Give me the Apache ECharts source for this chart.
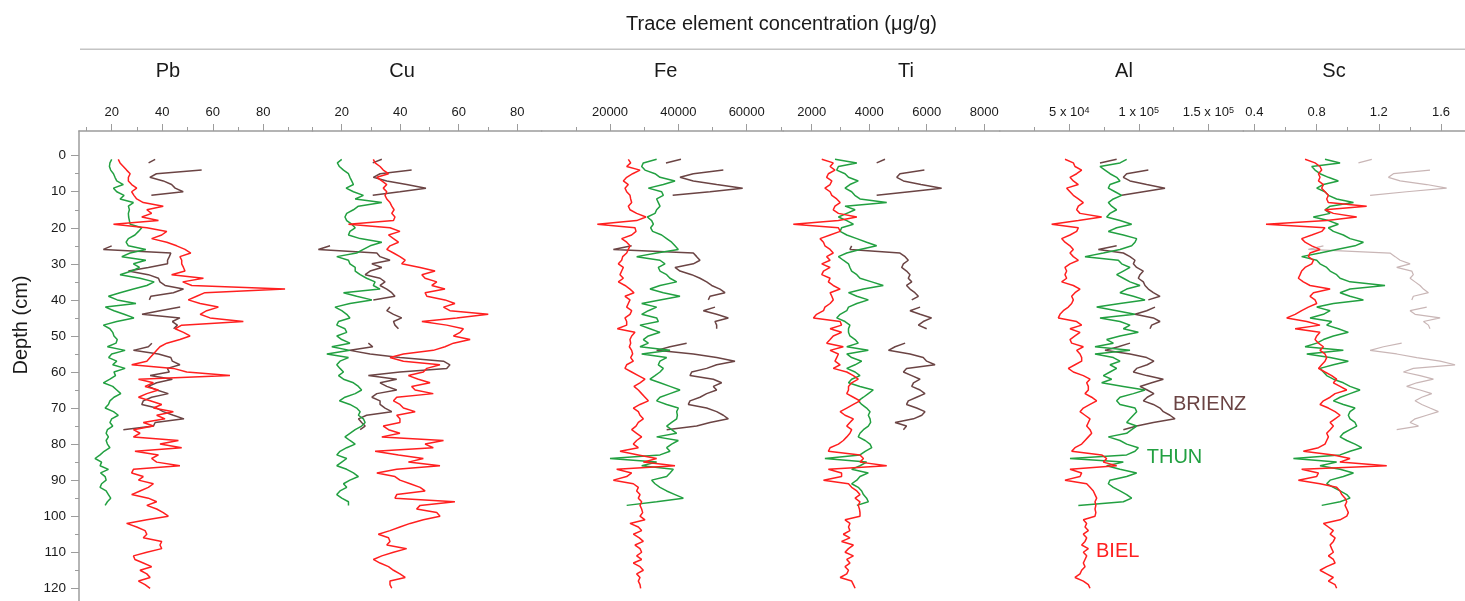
<!DOCTYPE html>
<html><head><meta charset="utf-8">
<script src="https://cdn.jsdelivr.net/npm/echarts@6/dist/echarts.min.js"></script>
<style>html,body{margin:0;padding:0;background:#fff}#c{width:1465px;height:601px}</style>
</head><body><div id="c"></div>
<script>
// ---------------- data ----------------
const BIEL_DEPTH = [1,2,3,4,5,6,7,8,9,10,11,12,13,14,15,16,17,18,19,20,21,22,23,24,25,26,27,28,29,30,31,32,33,34,35,36,37,38,39,40,41,42,43,44,45,46,47,48,49,50,51,52,53,54,55,56,57,58,59,60,61,62,63,64,65,66,67,68,69,70,71,72,73,74,75,76,77,78,79,80,81,82,83,84,85,86,87,88,89,90,91,92,93,94,95,96,97,98,99,100,101,102,103,104,105,106,107,108,109,110,111,112,113,114,115,116,117,118,119,120];
const THUN_DEPTH = [1,2,3,4,5,6,7,8,9,10,11,12,13,14,15,16,17,18,19,20,21,22,23,24,25,26,27,28,29,30,31,32,33,34,35,36,37,38,39,40,41,42,43,44,45,46,47,48,49,50,51,52,53,54,55,56,57,58,59,60,61,62,63,64,65,66,67,68,69,70,71,72,73,74,75,76,77,78,79,80,81,82,83,84,85,86,87,88,89,90,91,92,93,94,95,96,97];
const BRIENZ_DEPTH = [1,2,3,4,5,6,7,8,9,10,11,12,13,14,15,16,17,18,19,20,21,22,23,24,25,26,27,28,29,30,31,32,33,34,35,36,37,38,39,40,41,42,43,44,45,46,47,48,49,50,51,52,53,54,55,56,57,58,59,60,61,62,63,64,65,66,67,68,69,70,71,72,73,74,75,76];

const PB_BIEL = [22.6,23.3,24.6,25.9,27.3,26.6,26.6,27.9,29.9,27.9,28.8,29.9,32.5,40.4,33.9,35.8,31.9,38.5,20.7,33.9,41.8,39.8,35.8,41.8,45.7,49.0,51.3,47.0,47.7,47.7,48.4,49.0,43.7,56.3,48.1,51.7,88.6,56.9,53.6,50.3,55.0,62.2,57.6,55.0,58.9,72.1,47.7,45.1,48.4,51.0,47.0,41.8,39.1,37.8,36.5,35.2,33.9,27.9,44.4,49.7,66.8,30.6,36.5,33.2,38.5,33.9,30.6,35.2,39.8,36.5,44.4,37.8,41.1,32.5,36.5,28.6,31.2,28.6,46.4,39.1,47.7,29.2,38.5,35.8,37.8,47.0,28.6,27.9,32.5,30.6,36.5,34.5,31.2,27.9,34.5,37.8,33.9,37.8,40.4,42.4,33.9,25.9,29.9,33.2,33.9,32.5,39.8,39.1,39.8,33.9,28.6,29.2,32.5,35.8,31.2,33.9,35.2,30.6,33.2,35.2];
const PB_THUN = [20.0,19.3,19.1,19.6,20.7,21.3,22.0,24.6,20.7,22.0,24.9,23.3,28.6,26.6,27.0,26.6,26.7,27.0,27.3,31.9,30.6,29.2,26.6,25.7,26.6,33.5,27.3,24.0,33.5,28.6,31.0,27.9,23.3,31.2,36.8,33.9,28.6,23.3,18.7,22.2,29.6,17.5,20.9,24.9,28.8,22.0,16.7,19.3,20.4,20.9,22.2,21.7,18.3,25.3,20.0,18.8,22.0,20.4,25.3,20.9,21.5,19.3,16.7,20.4,22.0,23.6,20.9,19.3,18.7,17.4,20.7,22.6,20.0,19.3,20.4,18.3,17.8,18.7,17.8,18.3,19.3,17.0,15.4,13.4,16.0,15.4,18.7,15.6,17.4,17.8,16.0,15.4,17.8,18.7,19.6,18.3,17.4];
const PB_BRIENZ = [37.2,34.6,null,55.6,37.7,35.1,40.4,43.7,45.1,48.3,35.7,null,null,null,null,null,null,null,null,null,null,null,null,null,20.0,16.7,43.4,42.8,42.1,42.1,34.5,26.6,34.5,38.5,39.1,41.1,48.4,44.4,35.5,34.9,null,47.1,39.1,32.0,47.0,44.0,46.0,44.5,null,null,null,35.9,34.5,28.6,38.5,43.4,44.0,47.0,42.0,42.8,35.2,44.0,37.8,34.5,37.8,42.4,35.8,32.5,31.9,37.8,40.4,44.4,48.6,37.2,36.5,24.6];

const CU_BIEL = [30.8,31.4,33.1,34.2,36.0,32.0,33.7,35.4,34.2,35.4,34.8,35.4,36.5,37.1,37.9,37.1,38.2,37.7,22.3,36.5,39.9,36.0,37.7,39.4,36.5,35.4,37.7,39.9,41.7,40.5,46.8,51.9,47.4,48.5,52.5,50.8,55.3,48.5,49.1,55.3,58.7,54.8,57.0,70.1,59.3,47.4,55.9,61.6,60.5,58.2,63.9,58.2,55.3,51.3,41.1,36.5,41.1,53.6,49.1,47.9,42.8,46.2,50.2,43.9,45.1,51.3,38.8,37.7,39.9,41.1,45.1,38.8,39.9,39.9,34.2,36.0,39.9,33.7,54.8,48.5,51.3,31.4,39.4,47.9,42.8,53.6,38.8,32.0,38.2,39.9,43.4,46.8,48.5,38.8,38.2,58.7,46.8,45.6,52.5,53.6,47.9,43.4,39.9,36.5,32.5,36.0,36.5,35.4,42.2,37.7,33.7,30.8,33.1,36.0,37.7,39.9,41.7,36.5,36.5,37.1];
const CU_THUN = [20.0,18.5,19.2,20.6,22.3,22.8,23.4,24.0,21.5,24.0,27.4,24.6,33.7,25.7,24.0,21.7,21.1,21.7,23.4,24.6,22.8,22.3,26.3,33.7,29.7,27.4,25.1,18.3,22.3,22.8,24.6,24.6,26.3,28.5,31.4,30.8,33.1,20.6,25.1,30.3,22.8,17.7,20.0,21.7,22.8,18.9,18.3,21.1,21.7,18.3,20.0,22.8,16.6,22.8,14.9,22.3,19.4,18.3,19.4,20.6,18.9,20.6,24.0,25.7,26.8,24.6,21.1,19.2,22.8,25.1,26.3,25.7,27.4,28.0,26.8,24.6,22.8,21.1,22.8,24.6,21.7,19.4,18.3,21.7,20.0,18.3,21.7,24.0,25.7,22.8,20.6,21.7,19.4,18.3,20.0,22.3,22.3];
const CU_BRIENZ = [33.7,30.6,null,43.9,33.1,30.8,35.4,42.2,48.8,39.9,30.6,null,null,null,null,null,null,null,null,null,null,null,null,null,16.0,12.0,32.0,33.1,36.5,30.3,33.7,29.7,28.0,33.1,34.8,33.1,35.4,37.1,38.2,30.8,null,36.5,35.4,37.7,40.5,37.7,38.2,39.4,null,null,null,29.1,30.6,22.8,29.7,39.9,54.8,57.0,55.9,39.9,29.1,38.8,33.1,35.4,38.8,32.0,30.3,33.1,33.1,34.8,37.1,28.5,25.7,26.8,28.0,26.3];

const FE_BIEL = [25360,26050,24880,28780,26630,24880,23900,25360,24390,24880,25850,26050,26340,25360,25850,27800,30530,27800,16290,27310,27610,26340,23410,24880,25850,25360,24880,23710,23410,22440,23900,23410,22930,23900,22440,24390,25850,27020,24390,25850,25360,24880,26340,25850,24390,24880,24880,22150,27310,26340,25850,26050,25660,26340,26630,26050,26830,24880,24390,26340,28290,30240,28780,27020,28290,29260,30240,31220,28780,26830,28290,28780,29750,28290,27610,26340,27800,29260,27800,26830,28290,22930,28290,33650,29750,39020,21950,26340,24880,20980,26830,28290,27800,28780,28290,29260,28780,29260,29560,28780,30240,25850,28290,29260,26830,28580,29750,27310,28780,29260,27800,29260,26830,28780,29750,27800,28780,28290,28780,28970];
const FE_THUN = [33650,29750,29270,30240,33170,34630,39020,35600,31220,35120,35600,33650,34140,34630,33650,33170,30920,32190,32680,31900,32480,35120,36580,38040,39020,39990,33650,27800,34630,36090,34140,34630,36580,37560,39510,34630,31700,35600,40480,34630,29270,33650,31220,29270,33650,34140,28780,31700,34630,31220,29750,31220,28780,37560,29270,36580,34630,34140,35600,34630,33170,31700,34630,37560,40480,37560,34630,33650,36580,39990,39510,39710,39510,38040,36580,38040,39510,33650,39990,38040,36580,37560,34630,20000,33650,29270,38530,37560,36580,32190,33170,34630,36580,39020,41460,33650,24880];
const FE_BRIENZ = [40770,36380,null,53160,44380,40480,44380,51210,58820,49260,38340,null,null,null,null,null,null,null,null,null,null,null,null,null,26340,20980,44380,45360,46330,44380,39020,40480,43900,46330,48280,49750,52180,53650,49260,48770,null,50720,47310,51210,54620,50720,51210,51210,null,null,null,42430,37560,33650,44380,51210,56570,51210,48280,43900,43410,50230,52670,50230,51210,48280,46330,43410,42920,48280,51210,53160,54620,49260,45360,36580];

const TI_BIEL = [2350,2750,2640,2810,2580,2520,2700,2640,2460,2640,2700,2870,2990,2810,2750,2930,3570,2930,1360,2930,2990,2640,2290,2410,2460,2640,2750,2520,2640,2350,2640,2410,2350,2640,2580,2750,2990,2640,2700,2750,2640,2460,2410,2170,2060,2990,3040,2640,3040,2750,2640,2520,3100,2640,2930,2870,2810,2990,2750,3220,3450,3620,3390,3280,3280,3220,3450,3680,3450,3220,2990,3160,3450,3330,3220,3390,3330,3220,3100,2930,2640,2580,3680,3800,3680,4610,2580,3040,3040,2410,3280,3390,3570,3680,3510,3680,3620,3660,3680,3680,3160,3330,3280,3330,3100,3330,3040,3450,3280,3160,3450,3220,3330,3160,3280,3220,2990,3390,3450,3510];
const TI_THUN = [2810,3570,2930,2870,3160,3280,3620,3330,3160,3390,3500,3680,4610,3160,3510,3220,2930,3220,3450,3040,2990,3220,3570,3910,4260,3680,3220,2930,3100,3280,3330,3390,3570,3680,4090,4490,3800,3280,3570,3970,3570,3280,3220,2990,2870,3160,3330,3280,3280,3330,3510,3620,3220,3970,3220,3390,3740,3510,3220,3510,3680,3390,3280,3680,4140,3970,3800,3620,3740,3910,4030,3970,4030,4050,3970,3800,3680,3620,3860,4030,4090,3860,3680,2460,3910,3680,3390,3970,3680,3570,3390,3620,3740,3800,3910,3970,3570];
const TI_BRIENZ = [4550,4260,null,5920,5070,4960,5190,5800,6520,5400,4260,null,null,null,null,null,null,null,null,null,null,null,null,null,3390,3330,5070,5250,5360,5190,5130,5300,5420,5360,5480,5300,5420,5590,5710,5480,null,5770,5420,5770,6170,5880,5710,6000,null,null,null,5250,4900,4670,5420,5880,6000,6290,5300,5190,5480,5770,5540,5480,5770,5940,5650,5360,5300,5650,5940,5830,5540,4900,5300,5190];

const AL_BIEL = [46900,52900,54100,58900,55300,50500,52900,56500,48100,50500,52900,56500,60100,56500,55300,57700,73300,56500,37300,56500,55300,50500,44500,46900,50500,52900,50500,52900,56500,50500,46900,48100,46900,48100,44500,52900,57700,54100,51700,52900,51700,49300,45700,43300,42100,55300,58900,50500,57700,54100,50500,51700,60100,55300,57700,58900,58900,54100,49300,52900,60100,64900,62500,63700,63700,61300,66100,69700,64900,60100,57700,61300,64900,63700,62500,64900,66100,63700,61300,58900,54100,51700,73300,76880,74480,84100,50500,58900,57700,46900,62500,64900,67300,68500,69700,68500,69100,68500,69100,68500,60100,62500,61300,63700,60100,62500,61300,58900,63700,60100,62500,61300,60100,61300,58900,57700,54100,60100,63700,64900];
const AL_THUN = [91270,86470,72080,75680,79280,84070,86470,79280,78080,82880,87670,81680,78080,80480,84070,79280,76880,86470,94870,84070,78080,88870,98460,97260,94870,86470,74480,61290,85270,87670,93670,88870,84070,88870,93670,100860,91270,86470,96070,104460,86470,69690,84070,97260,72080,86470,93670,88870,99660,86470,76880,81680,68490,93670,68490,81680,86470,79280,84070,79280,74480,80480,73280,88870,104460,96070,86470,84070,86470,97260,98460,96070,93670,91270,98460,94870,91270,78080,86470,91270,99660,97260,91270,50500,88870,76880,86470,98460,91270,79280,78080,81680,86470,91270,94870,88870,56500];
const AL_BRIENZ = [84070,72080,null,106860,91270,88870,93670,105660,118850,103260,87670,null,null,null,null,null,null,null,null,null,null,null,null,null,84070,70890,88870,93670,97260,96070,98460,103260,100860,99660,103260,104460,106860,110460,115250,106860,null,111650,105660,97260,110460,115250,109260,108060,null,null,null,93670,85270,75680,93670,105660,110860,106060,98460,96070,105660,117650,109260,100860,106060,110860,106060,103260,110460,115250,117650,122450,126050,110460,98460,88870];

const SC_BIEL = [0.726,0.79,0.822,0.833,0.812,0.822,0.812,0.844,0.833,0.854,0.876,0.865,0.876,1.122,0.854,0.908,1.058,0.865,0.475,0.854,0.833,0.769,0.704,0.726,0.769,0.822,0.758,0.747,0.78,0.769,0.726,0.704,0.694,0.683,0.715,0.758,0.887,0.78,0.758,0.79,0.801,0.747,0.704,0.662,0.608,0.737,0.822,0.662,0.822,0.801,0.79,0.812,0.844,0.822,0.854,0.865,0.854,0.833,0.812,0.854,0.897,0.929,0.908,0.951,0.994,0.919,0.887,0.844,0.822,0.876,0.919,0.951,0.919,0.887,0.908,0.887,0.865,0.876,0.865,0.854,0.812,0.715,0.908,1.015,0.95,1.251,0.704,0.812,0.80,0.683,0.822,0.929,0.951,0.962,0.983,0.994,0.983,0.994,1.004,0.994,0.951,0.844,0.876,0.908,0.887,0.919,0.908,0.887,0.897,0.908,0.876,0.908,0.919,0.865,0.822,0.865,0.908,0.876,0.919,0.929];
const SC_THUN = [0.854,0.951,0.769,0.79,0.822,0.876,0.94,0.844,0.801,0.854,0.876,0.929,1.037,0.887,0.854,0.887,0.779,0.876,0.94,0.876,0.908,0.972,1.015,1.101,1.047,0.929,0.822,0.704,0.801,0.822,0.865,0.887,0.929,0.951,1.015,1.24,1.015,0.951,1.015,1.101,0.908,0.801,0.887,0.844,0.758,0.897,0.865,0.94,1.004,0.908,0.844,0.801,0.726,0.972,0.737,0.887,1.004,0.908,0.822,0.844,0.865,0.908,0.972,1.015,1.079,1.015,0.951,0.908,0.972,1.047,1.015,1.004,1.015,1.047,1.058,1.015,0.972,0.951,0.994,1.047,1.09,1.015,0.951,0.651,0.929,0.822,0.951,1.037,0.972,0.887,0.865,0.908,0.951,0.994,1.015,0.951,0.833];
const SC_BRIENZ = [1.155,1.069,null,1.529,1.294,1.262,1.337,1.508,1.636,1.379,1.144,null,null,null,null,null,null,null,null,null,null,null,null,null,0.844,0.747,1.272,1.305,1.337,1.401,1.315,1.412,1.422,1.401,1.433,1.465,1.487,1.519,1.422,1.412,null,1.508,1.401,1.433,1.594,1.487,1.519,1.529,null,null,null,1.347,1.23,1.144,1.315,1.444,1.594,1.69,1.422,1.358,1.465,1.551,1.444,1.379,1.465,1.54,1.476,1.433,1.476,1.529,1.583,1.508,1.433,1.401,1.455,1.315];

const ELEMENTS = ['Pb','Cu','Fe','Ti','Al','Sc'];
const MAJOR_TICKS = [[20,40,60,80],[20,40,60,80],[20000,40000,60000],[2000,4000,6000,8000],[50000,100000,150000],[0.4,0.8,1.2,1.6]];
const TICK_LABELS = [['20','40','60','80'],['20','40','60','80'],['20000','40000','60000'],['2000','4000','6000','8000'],['5 x 10{s|4}','1 x 10{s|5}','1.5 x 10{s|5}'],['0.4','0.8','1.2','1.6']];
const MINOR_TICKS = [[10,30,50,70,90],[10,30,50,70],[10000,30000,50000,70000],[3000,5000,7000],[25000,75000,125000],[0.6,1.0,1.4]];
const X_MIN = [7.06,10.0,15,1009,0,0.329];
const X_MAX = [99.46,88.38,70680,8543,175180,1.754];
const DEPTH_TICKS = [0,10,20,30,40,50,60,70,80,90,100,110,120];
const DEPTH_MINOR = [5,15,25,35,45,55,65,75,85,95,105,115];
const LAKES = ['BRIENZ','THUN','BIEL'];
const SERIES = [
  [PB_BRIENZ,PB_THUN,PB_BIEL],[CU_BRIENZ,CU_THUN,CU_BIEL],[FE_BRIENZ,FE_THUN,FE_BIEL],
  [TI_BRIENZ,TI_THUN,TI_BIEL],[AL_BRIENZ,AL_THUN,AL_BIEL],[SC_BRIENZ,SC_THUN,SC_BIEL]
];
const DEPTHS = [BRIENZ_DEPTH, THUN_DEPTH, BIEL_DEPTH];
// annotation anchors in data units of the Al panel [value, depth]
const LAKE_LABEL_AT = {BRIENZ:[124600,68.9], THUN:[105700,83.6], BIEL:[69200,109.8]};

// ---------------- layout / style ----------------
const FONT = 'Liberation Sans, Arial, sans-serif';
const GRID_LEFT = [79,312.5,541.7,783.2,999.8,1243.3];
const GRID_RIGHT = [312.5,541.7,783.2,999.8,1243.3,1465];
const NAME_X = [168,402,665.7,906,1124,1334];
const COLORS = {BRIENZ:'#6b4444', THUN:'#22a041', BIEL:'#ff1f1f'};
const SC_BRIENZ_COLOR = '#c9b6b6';
const AXIS_COLOR = '#9c9c9c';
const TEXT_COLOR = '#1a1a1a';
const TOP = 131, Y_MIN = -6.85, Y_MAX = 125, PX_PER_CM = 3.605;

const grids = [], xAxes = [], yAxes = [], series = [];
ELEMENTS.forEach((el, i) => {
  grids.push({left: GRID_LEFT[i], width: GRID_RIGHT[i]-GRID_LEFT[i], top: TOP, height: (Y_MAX-Y_MIN)*PX_PER_CM, containLabel:false, outerBoundsMode:'none'});
  xAxes.push({type:'value', gridIndex:i, position:'top', min:X_MIN[i], max:X_MAX[i],
    axisLine:{show:true, onZero:false, lineStyle:{color:AXIS_COLOR, width:1.5}},
    axisTick:{show:true, customValues:MINOR_TICKS[i], length:4, lineStyle:{color:AXIS_COLOR, width:1}},
    axisLabel:{show:false}, splitLine:{show:false}});
  xAxes.push({type:'value', gridIndex:i, position:'top', min:X_MIN[i], max:X_MAX[i],
    axisLine:{show:false, onZero:false},
    axisTick:{show:true, customValues:MAJOR_TICKS[i], length:7, lineStyle:{color:AXIS_COLOR, width:1}},
    axisLabel:{show:true, customValues:MAJOR_TICKS[i], margin:12, fontSize:13, color:TEXT_COLOR, fontFamily:FONT,
      formatter: v => { const k = MAJOR_TICKS[i].findIndex(t => Math.abs(t-v) < 1e-9); return k >= 0 ? TICK_LABELS[i][k] : ''; },
      rich:{s:{fontSize:9, verticalAlign:'top', lineHeight:12, fontFamily:FONT, color:TEXT_COLOR}}},
    splitLine:{show:false}});
  yAxes.push({type:'value', gridIndex:i, inverse:true, min:Y_MIN, max:Y_MAX, show: i === 0,
    axisLine:{show:true, onZero:false, lineStyle:{color:AXIS_COLOR, width:1.5}},
    axisTick:{show:true, customValues:DEPTH_TICKS, length:8, lineStyle:{color:AXIS_COLOR}},
    axisLabel:{show:true, customValues:DEPTH_TICKS, margin:13, fontSize:13.5, color:TEXT_COLOR, fontFamily:FONT},
    splitLine:{show:false}});
  LAKES.forEach((lake, j) => {
    const vals = SERIES[i][j], dep = DEPTHS[j];
    const light = (el === 'Sc' && lake === 'BRIENZ');
    const color = light ? SC_BRIENZ_COLOR : COLORS[lake];
    const s = {type:'line', name: el + ' ' + lake, xAxisIndex: 2*i, yAxisIndex:i,
      data: vals.map((v, k) => [v == null ? '-' : v, dep[k]]),
      showSymbol:false, symbol:'none', connectNulls:false, silent:true, animation:false,
      lineStyle:{color, width: light ? 1.2 : 1.5}, itemStyle:{color}, z: 2 + j};
    if (el === 'Al') {
      s.markPoint = {symbol:'circle', symbolSize:0, silent:true, animation:false,
        label:{show:true, position:'right', distance:0, formatter: lake, fontSize:20, color: COLORS[lake], fontFamily:FONT},
        data:[{coord: LAKE_LABEL_AT[lake]}]};
    }
    series.push(s);
  });
});
// minor depth ticks
yAxes.push({type:'value', gridIndex:0, inverse:true, min:Y_MIN, max:Y_MAX, position:'left',
  axisLine:{show:false, onZero:false}, axisTick:{show:true, customValues:DEPTH_MINOR, length:4, lineStyle:{color:AXIS_COLOR}},
  axisLabel:{show:false}, splitLine:{show:false}});

const titles = [{text:'Trace element concentration (μg/g)', left:781.5, top:14, textAlign:'center', padding:0,
  textStyle:{fontSize:20, fontWeight:'normal', color:TEXT_COLOR, fontFamily:FONT}}];
ELEMENTS.forEach((el, i) => titles.push({text:el, left:NAME_X[i], top:61, textAlign:'center', padding:0,
  textStyle:{fontSize:20, fontWeight:'normal', color:TEXT_COLOR, fontFamily:FONT}}));

const chart = echarts.init(document.getElementById('c'), null, {renderer:'canvas'});
chart.setOption({
  animation:false, backgroundColor:'#fff', textStyle:{fontFamily:FONT},
  title: titles, grid: grids, xAxis: xAxes, yAxis: yAxes, series,
  graphic:[
    {type:'line', silent:true, shape:{x1:80, y1:49.3, x2:1465, y2:49.3}, style:{stroke:'#c4c4c4', lineWidth:1.6}},
    {type:'text', silent:true, x:21, y:325, rotation:Math.PI/2,
      style:{text:'Depth (cm)', fontSize:20, fontFamily:FONT, fill:TEXT_COLOR, align:'center', verticalAlign:'middle'}}
  ]
});
</script></body></html>
